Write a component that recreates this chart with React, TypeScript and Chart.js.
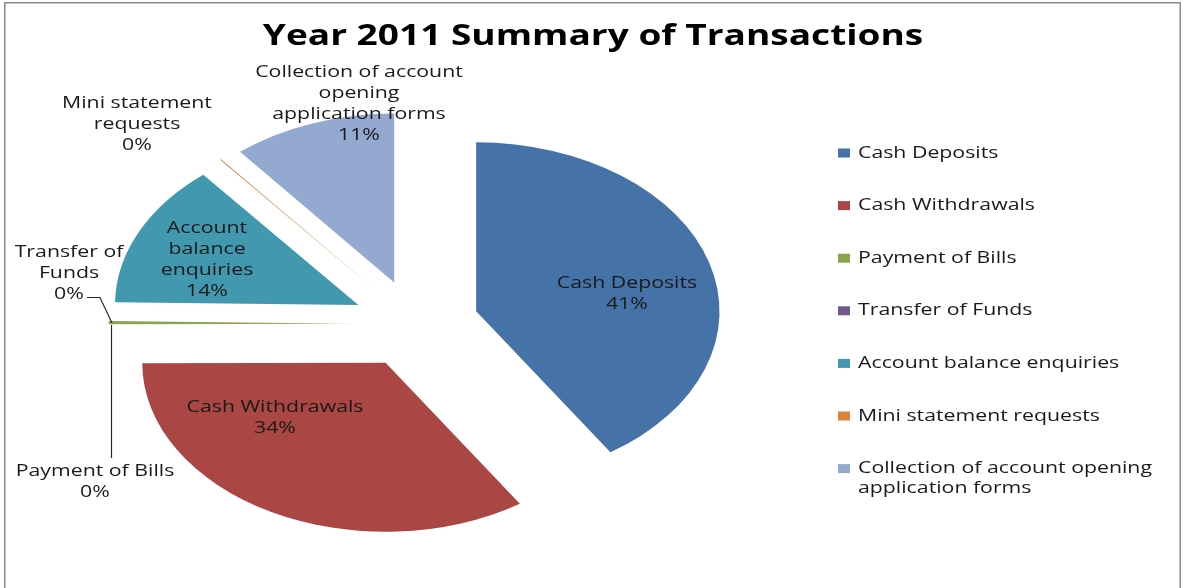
import React, { useEffect, useRef } from 'react';
import { Chart, registerables } from 'chart.js';

Chart.register(...registerables);

// ---------- data ----------
const TITLE = 'Year 2011 Summary of Transactions';
const categories = [
  'Cash Deposits',
  'Cash Withdrawals',
  'Payment of Bills',
  'Transfer of Funds',
  'Account balance enquiries',
  'Mini statement requests',
  'Collection of account opening application forms',
];
// share of transactions (%)
const shares = [40.7, 34.25, 0.3, 0, 13.75, 0.08, 10.92];
const colors = ['#4572A7', '#AA4643', '#89A54E', '#71588F', '#4198AF', '#DB843D', '#93A9CF'];
// how the data label names wrap
const labelLines = [
  ['Cash Deposits'],
  ['Cash Withdrawals'],
  ['Payment of Bills'],
  ['Transfer of', 'Funds'],
  ['Account', 'balance', 'enquiries'],
  ['Mini statement', 'requests'],
  ['Collection of account', 'opening', 'application forms'],
];
// how the legend entries wrap
const legendLines = [
  ['Cash Deposits'],
  ['Cash Withdrawals'],
  ['Payment of Bills'],
  ['Transfer of Funds'],
  ['Account balance enquiries'],
  ['Mini statement requests'],
  ['Collection of account opening', 'application forms'],
];

// ---------- layout ----------
const W = 1184;
const H = 588;
const PIE_RADIUS = 169;
const PIE_SX = 1.44; // horizontal stretch of the pie
const EXPLODE = 44;
const TEXT_SX = 1.33;
const FONT_FAMILY = '"Open Sans", "DejaVu Sans", sans-serif';
const LABEL_FONT = `16px ${FONT_FAMILY}`;
const TITLE_FONT = `bold 28.5px ${FONT_FAMILY}`;
const TEXT_COLOR = '#1a1a1a';
const LINE_H = 21;
// data label anchor: centre x, middle y of first line
const LABEL_POS: [number, number][] = [
  [627, 283],
  [275, 407],
  [95, 471],
  [69, 252],
  [207, 228],
  [137, 103],
  [359, 72],
];
const LEGEND_BOX_X = 838;
const LEGEND_TEXT_X = 858;
const LEGEND_Y0 = 153;
const LEGEND_STEP = 52.6;
const LEGEND_LINE_H = 20;

function drawText(
  ctx: CanvasRenderingContext2D,
  text: string,
  x: number,
  y: number,
  font: string,
  align: CanvasTextAlign = 'center',
  color: string = TEXT_COLOR,
  sx: number = TEXT_SX
) {
  ctx.save();
  ctx.font = font;
  ctx.fillStyle = color;
  ctx.textBaseline = 'middle';
  ctx.textAlign = align;
  ctx.translate(x, y);
  ctx.scale(sx, 1);
  ctx.fillText(text, 0, 0);
  ctx.restore();
}

const total = shares.reduce((a, b) => a + b, 0);

const pieTextPlugin = {
  id: 'ellipsePieText',
  beforeDraw(chart: any) {
    const ctx: CanvasRenderingContext2D = chart.ctx;
    ctx.save();
    ctx.fillStyle = '#ffffff';
    ctx.fillRect(0, 0, W, H);
    ctx.strokeStyle = '#8a8a8a';
    ctx.lineWidth = 1.5;
    ctx.strokeRect(4.75, 2.75, W - 8.5, H + 40);
    ctx.restore();
  },
  beforeDatasetsDraw(chart: any) {
    const ctx: CanvasRenderingContext2D = chart.ctx;
    const meta = chart.getDatasetMeta(0);
    meta.data.forEach((arc: any) => {
      const { x, y, startAngle, endAngle } = arc.getProps(['x', 'y', 'startAngle', 'endAngle'], true);
      const mid = (startAngle + endAngle) / 2;
      ctx.save();
      ctx.translate(x, y);
      ctx.scale(PIE_SX, 1);
      ctx.translate(Math.cos(mid) * EXPLODE, Math.sin(mid) * EXPLODE);
      ctx.translate(-x, -y);
      arc.draw(ctx);
      ctx.restore();
    });
    return false;
  },
  afterDraw(chart: any) {
    const ctx: CanvasRenderingContext2D = chart.ctx;
    // title
    drawText(ctx, TITLE, 593, 37, TITLE_FONT, 'center', '#000000', 1.3);

    // leader lines for the 0% labels
    ctx.save();
    ctx.strokeStyle = '#2a2a2a';
    ctx.lineWidth = 1.2;
    ctx.beginPath();
    ctx.moveTo(87, 297.5);
    ctx.lineTo(100, 297.5);
    ctx.lineTo(112, 323);
    ctx.stroke();
    ctx.beginPath();
    ctx.moveTo(111.5, 325);
    ctx.lineTo(111.5, 458);
    ctx.stroke();
    ctx.restore();

    // data labels
    categories.forEach((_, i) => {
      const pct = Math.round((shares[i] / total) * 100) + '%';
      const lines = [...labelLines[i], pct];
      const [cx, cy] = LABEL_POS[i];
      lines.forEach((ln, k) => drawText(ctx, ln, cx, cy + k * LINE_H, LABEL_FONT));
    });

    // legend
    categories.forEach((_, i) => {
      const y = LEGEND_Y0 + i * LEGEND_STEP;
      ctx.save();
      ctx.fillStyle = colors[i];
      ctx.fillRect(LEGEND_BOX_X, y - 4.5, 12, 9);
      ctx.restore();
      legendLines[i].forEach((ln, k) =>
        drawText(ctx, ln, LEGEND_TEXT_X, y + k * LEGEND_LINE_H, LABEL_FONT, 'left')
      );
    });
  },
};

export default function App() {
  const ref = useRef<HTMLCanvasElement | null>(null);
  useEffect(() => {
    if (!ref.current) return;
    const chart = new Chart(ref.current, {
      type: 'pie',
      data: {
        labels: categories,
        datasets: [
          {
            data: shares,
            backgroundColor: colors,
            borderWidth: 0,
            radius: PIE_RADIUS,
          } as any,
        ],
      },
      options: {
        responsive: false,
        animation: false,
        events: [],
        layout: { padding: { left: 0, right: 353, top: 60, bottom: 0 } },
        plugins: {
          legend: { display: false },
          tooltip: { enabled: false },
          title: { display: false },
        },
      },
      plugins: [pieTextPlugin as any],
    });
    return () => chart.destroy();
  }, []);
  return (
    <div style={{ position: 'absolute', left: 0, top: 0, width: W, height: H, background: '#fff' }}>
      <canvas ref={ref} width={W} height={H} style={{ display: 'block', width: W, height: H }} />
    </div>
  );
}
